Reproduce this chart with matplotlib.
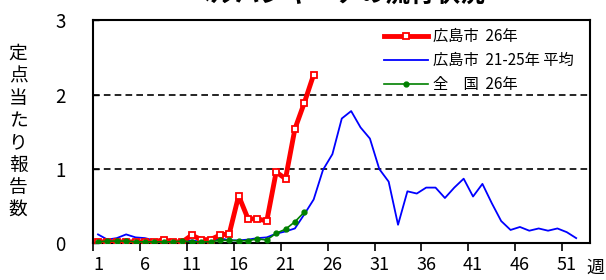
import matplotlib
matplotlib.use("Agg")
import matplotlib.pyplot as plt
from matplotlib.ticker import FixedLocator

plt.rcParams['font.family'] = ['Noto Sans CJK JP', 'DejaVu Sans']

# 週
weeks_all = list(range(1, 53))

# 広島市 26年 (weeks 1-24)
hiroshima_26 = [0.02, 0.02, 0.02, 0.02, 0.02, 0.02, 0.02, 0.05, 0.02, 0.02,
                0.11, 0.05, 0.05, 0.11, 0.13, 0.64, 0.33, 0.33, 0.30, 0.96,
                0.87, 1.54, 1.89, 2.27]

# 広島市 21-25年 平均 (weeks 1-52)
hiroshima_avg = [0.12, 0.05, 0.07, 0.12, 0.08, 0.07, 0.04, 0.05, 0.04, 0.02,
                 0.04, 0.02, 0.02, 0.07, 0.04, 0.04, 0.05, 0.07, 0.08, 0.13,
                 0.16, 0.20, 0.39, 0.59, 0.99, 1.20, 1.68, 1.78, 1.56, 1.41,
                 1.00, 0.83, 0.25, 0.70, 0.67, 0.75, 0.75, 0.61, 0.75, 0.87,
                 0.63, 0.80, 0.54, 0.30, 0.18, 0.22, 0.17, 0.20, 0.17, 0.20,
                 0.15, 0.07]

# 全国 26年 (weeks 1-23)
national_26 = [0.02, 0.03, 0.03, 0.03, 0.02, 0.02, 0.02, 0.02, 0.02, 0.03,
               0.02, 0.02, 0.02, 0.04, 0.04, 0.035, 0.035, 0.06, 0.045, 0.135,
               0.19, 0.29, 0.42]

xtick_weeks = [1, 6, 11, 16, 21, 26, 31, 36, 41, 46, 51]

fig = plt.figure(figsize=(6.06, 2.80), dpi=100)
ax = fig.add_axes([0.154, 0.131, 0.82, 0.796])

ax.plot(weeks_all, hiroshima_avg, color='#0000ff', lw=1.3,
        label='広島市  21-25年 平均', zorder=2)
ax.plot(range(1, len(hiroshima_26) + 1), hiroshima_26, color='#ff0000', lw=3.5,
        marker='s', markersize=5, markerfacecolor='white', markeredgecolor='#ff0000',
        markeredgewidth=1.3, label='広島市  26年', zorder=3)
ax.plot(range(1, len(national_26) + 1), national_26, color='#008000', lw=1.2,
        marker='o', markersize=3.5, label='全　国  26年', zorder=4)

ax.set_xlim(0.5, 53.5)
ax.set_ylim(0, 3)

for yv in [1, 2]:
    ax.axhline(yv, color='black', lw=1.2, linestyle=(0, (4, 2.5)), zorder=1)

ax.set_yticks([0, 1, 2, 3])
ax.set_yticklabels(['0', '1', '2', '3'], fontsize=13.5)
ax.tick_params(axis='y', direction='in', length=4, width=1, pad=20)

ax.xaxis.set_major_locator(FixedLocator(xtick_weeks))
ax.set_xticklabels([str(w) for w in xtick_weeks], fontsize=13)
ax.xaxis.set_minor_locator(FixedLocator([w - 0.5 for w in xtick_weeks]))
ax.tick_params(axis='x', which='major', length=0, pad=9)
ax.tick_params(axis='x', which='minor', direction='out', length=6, width=1.2)

for sp in ax.spines.values():
    sp.set_linewidth(1.5)

fig.text(0.983, 0.043, '週', fontsize=13, ha='center', va='center')
fig.text(0.03, 0.53, '\n'.join('定点当たり報告数'), fontsize=13.5,
         ha='center', va='center', linespacing=1.08)
fig.text(0.555, 1.015, 'ヘルパンギーナの流行状況', fontsize=18, fontweight='bold',
         ha='center', va='center')

handles, labels = ax.get_legend_handles_labels()
order = [1, 0, 2]
ax.legend([handles[i] for i in order], [labels[i] for i in order],
          loc='upper left', bbox_to_anchor=(0.585, 0.965), frameon=False,
          fontsize=11, handlelength=2.9, handletextpad=0.3,
          labelspacing=0.45, borderaxespad=0, borderpad=0)

fig.savefig('out.png', dpi=100)
